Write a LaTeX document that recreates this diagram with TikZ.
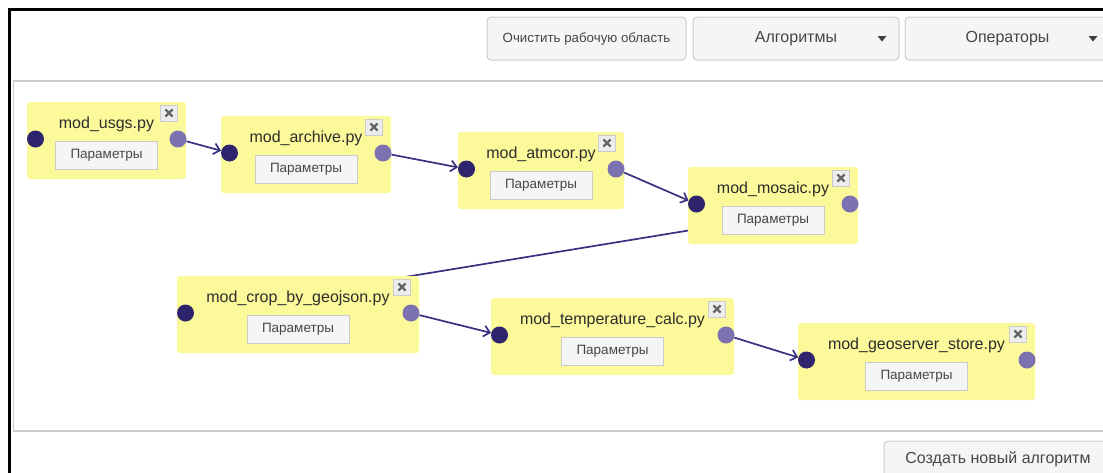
\documentclass[tikz,border=0pt]{standalone}
\usepackage{fontspec}
\setmainfont{Liberation Sans}
\usetikzlibrary{arrows.meta}
\pgfdeclarelayer{bg}
\pgfsetlayers{bg,main}
\definecolor{modyellow}{RGB}{251,249,153}
\definecolor{dotdark}{RGB}{46,36,110}
\definecolor{dotlight}{RGB}{124,114,178}
\definecolor{edgecol}{RGB}{58,48,128}
\definecolor{btnfill}{RGB}{245,245,245}
\definecolor{btnborder}{RGB}{204,204,204}
\definecolor{txt}{RGB}{45,45,45}
\definecolor{btntxt}{RGB}{70,70,70}
\tikzset{
  modbox/.style={draw=none, fill=modyellow, rounded corners=3pt, minimum height=77pt, inner sep=0pt},
  modtitle/.style={inner sep=0pt, text=txt, font=\fontsize{16}{18}\selectfont},
  parbtn/.style={draw=btnborder, line width=1pt, fill=btnfill, minimum width=102pt, minimum height=28pt, inner sep=0pt, text=btntxt, font=\fontsize{13.5}{15}\selectfont},
  indot/.style={circle, fill=dotdark, minimum size=17pt, inner sep=0pt},
  outdot/.style={circle, fill=dotlight, minimum size=17pt, inner sep=0pt},
  closebox/.style={draw=btnborder, line width=0.8pt, fill=white!93!black, minimum width=17pt, minimum height=16pt, inner sep=0pt},
  closemark/.style={draw=black!60, line width=2.4pt},
  topbtn/.style={draw=btnborder, line width=1pt, fill=btnfill, rounded corners=4pt, inner sep=0pt, text=btntxt},
  edge/.style={draw=edgecol, line width=1.7pt, -{Straight Barb[length=6pt, width=11pt, line width=1.7pt]}},
  caret/.style={fill=black!75, draw=none}
}
\newcommand\mymod[5]{%
  \pgfmathsetmacro\mw{#4-#2}%
  \node[modbox, minimum width=\mw pt] (#1) at ({(#2+#4)/2},{#3+38.5}) {};
  \node[modtitle, anchor=base] (#1t) at ({(#2+#4)/2},{#3+26}) {#5};
  \node[parbtn] (#1b) at ({(#2+#4)/2},{#3+53}) {Параметры};
  \node[indot] (#1i) at ({#2+8.5},{#3+37}) {};
  \node[outdot] (#1o) at ({#4-8},{#3+37}) {};
  \node[closebox] (#1x) at ({#4-17},{#3+11}) {};
  \draw[closemark] ([shift={(-3.6,-3.6)}]#1x.center) -- ([shift={(3.6,3.6)}]#1x.center)
                   ([shift={(-3.6,3.6)}]#1x.center) -- ([shift={(3.6,-3.6)}]#1x.center);
}
\begin{document}
\begin{tikzpicture}[x=1pt, y=-1pt]
\useasboundingbox (0,0) rectangle (1103,472);
\clip (0,0) rectangle (1103,472);
% outer frame
\draw[black, line width=3pt] (9,475) -- (9,9.5) -- (1110,9.5);
% canvas
\draw[btnborder, line width=1.5pt] (1115,81) -- (13.5,81) -- (13.5,431) -- (1115,431);
% top buttons
\node[topbtn, minimum width=199pt, minimum height=43pt, font=\fontsize{13.3}{15}\selectfont] (clear) at (586.5,38.5) {Очистить рабочую область};
\node[topbtn, minimum width=206pt, minimum height=43pt] (algbtn) at (796,38.5) {};
\node[text=btntxt, inner sep=0pt, font=\fontsize{16}{18}\selectfont] (algtxt) at (796,38.5) {Алгоритмы};
\fill[caret] (877.5,36) -- (886.5,36) -- (882,41.5) -- cycle;
\node[topbtn, minimum width=210pt, minimum height=43pt] (opbtn) at (1010,38.5) {};
\node[text=btntxt, inner sep=0pt, font=\fontsize{16}{18}\selectfont] (optxt) at (1007.5,38.5) {Операторы};
\fill[caret] (1088.5,36) -- (1097.5,36) -- (1093,41.5) -- cycle;
% bottom button
\node[topbtn, minimum width=232pt, minimum height=42pt] (newbtn) at (1000,462) {};
\node[text=btntxt, inner sep=0pt, font=\fontsize{16}{18}\selectfont] (newtxt) at (998,459.5) {Создать новый алгоритм};
% modules
\mymod{usgs}{27}{102}{186}{mod\_usgs.py}
\mymod{arch}{221}{116}{391}{mod\_archive.py}
\mymod{atm}{458}{132}{624}{mod\_atmcor.py}
\mymod{mos}{688}{167}{858}{mod\_mosaic.py}
\mymod{crop}{177}{276}{419}{mod\_crop\_by\_geojson.py}
\mymod{temp}{491}{298}{734}{mod\_temperature\_calc.py}
\mymod{geo}{798}{323}{1035}{mod\_geoserver\_store.py}
% connectors
\begin{pgfonlayer}{bg}
\draw[edge] (usgso) -- (archi);
\draw[edge] (archo) -- (atmi);
\draw[edge] (atmo) -- (mosi);
\draw[edge] (moso) -- (cropi);
\draw[edge] (cropo) -- (tempi);
\draw[edge] (tempo) -- (geoi);
\end{pgfonlayer}
\end{tikzpicture}
\end{document}
